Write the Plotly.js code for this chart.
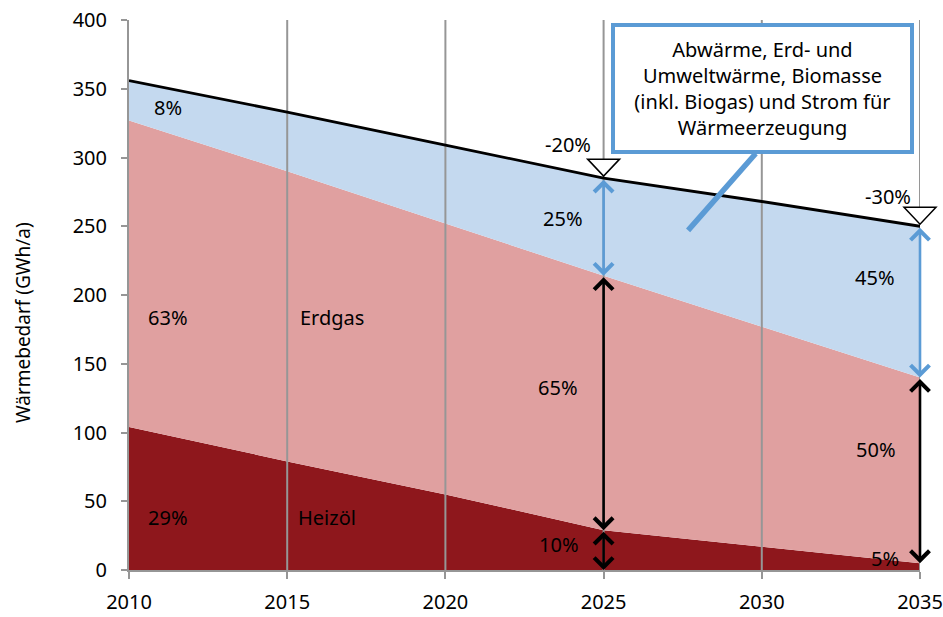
<!DOCTYPE html>
<html>
<head>
<meta charset="utf-8">
<script src="https://cdn.plot.ly/plotly-3.0.1.min.js"></script>
<style>html,body{margin:0;padding:0;background:#fff;}#chart{width:943px;height:617px;}</style>
</head>
<body>
<div id="chart"></div>
<script>
// ---- data ----
const years = [2010, 2015, 2020, 2025, 2030, 2035];
const heizoel = [104, 79, 55, 29, 17, 5];          // Heizöl (GWh/a)
const erdgas = [223, 211, 197, 185, 160, 135];     // Erdgas (GWh/a)
const sonstige = [29, 43, 57, 71, 91, 110];        // Abwärme, Erd-/Umweltwärme, Biomasse, Strom
const xTicks = [2010, 2015, 2020, 2025, 2030, 2035];
const yTicks = [0, 50, 100, 150, 200, 250, 300, 350, 400];
const labelTexts = ['8%', '63%', '29%', 'Erdgas', 'Heizöl', '-20%', '25%', '65%', '10%', '-30%', '45%', '50%', '5%'];
const calloutText = 'Abwärme, Erd- und<br>Umweltwärme, Biomasse<br>(inkl. Biogas) und Strom für<br>Wärmeerzeugung';
const yTitle = 'Wärmebedarf (GWh/a)';

// ---- label placement (layout only) ----
const labelX = [2011.23, 2011.23, 2011.23, 2016.42, 2016.27, 2023.87, 2023.73, 2023.56, 2023.6, 2033.99, 2033.58, 2033.6, 2033.9];
const labelY = [336.7, 183.3, 38.5, 183.3, 38, 309.8, 256, 132.4, 18.2, 272, 212.4, 88, 8.7];

const FONT = 'Noto Sans, DejaVu Sans, sans-serif';
const BLUE = '#5B9BD5';
const GRID = '#969696';
const XR = [2010, 2035];

const pinkTop = years.map((_, i) => heizoel[i] + erdgas[i]);
const total = years.map((_, i) => heizoel[i] + erdgas[i] + sonstige[i]);

const gx = [], gy = [];
xTicks.slice(1).forEach(t => { gx.push(t, t, null); gy.push(0, 400, null); });

const traces = [
  {x: years, y: heizoel, stackgroup: 'a', mode: 'none', fillcolor: '#8E171C', hoverinfo: 'skip', name: 'Heizöl'},
  {x: years, y: erdgas, stackgroup: 'a', mode: 'none', fillcolor: '#E0A0A0', hoverinfo: 'skip', name: 'Erdgas'},
  {x: years, y: sonstige, stackgroup: 'a', mode: 'none', fillcolor: '#C4D9EF', hoverinfo: 'skip', name: 'Sonstige'},
  {x: gx, y: gy, mode: 'lines', line: {color: GRID, width: 2}, cliponaxis: false, hoverinfo: 'skip'},
  {x: years, y: total, mode: 'lines', line: {color: '#000', width: 2.8}, hoverinfo: 'skip'}
];

const annotations = [];
// leader line of the callout
annotations.push({x: 2027.67, y: 247, ax: 2029.85, ay: 304, axref: 'x', ayref: 'y', xref: 'x', yref: 'y',
  text: '', showarrow: true, arrowhead: 0, arrowwidth: 5.5, arrowcolor: BLUE, standoff: 0});
// callout box
annotations.push({x: 2030.02, y: 350, xref: 'x', yref: 'y', text: calloutText, showarrow: false,
  font: {family: FONT, size: 20, color: '#000'}, align: 'center', bgcolor: '#fff', bordercolor: BLUE,
  borderwidth: 4, borderpad: 0, width: 295, height: 123, xanchor: 'center', yanchor: 'middle'});
// text labels
labelTexts.forEach((t, i) => annotations.push({x: labelX[i], y: labelY[i], xref: 'x', yref: 'y', text: t,
  showarrow: false, font: {family: FONT, size: 20, color: '#000'}}));
// double arrows
function dbl(xv, y1, y2, color) {
  annotations.push({x: xv, y: y2, ax: xv, ay: y1, xref: 'x', yref: 'y', axref: 'x', ayref: 'y', text: '',
    showarrow: true, arrowside: 'end+start', arrowhead: 4, startarrowhead: 4, arrowsize: 1.4, startarrowsize: 1.4,
    arrowwidth: 2.6, arrowcolor: color, standoff: 0, startstandoff: 0});
}
[3, 5].forEach(i => {
  dbl(years[i], total[i], pinkTop[i], BLUE);
  dbl(years[i], pinkTop[i], heizoel[i], '#000');
});
dbl(years[3], heizoel[3], 0, '#000');
// y axis title
annotations.push({x: -0.134, y: 0.449, xref: 'paper', yref: 'paper', xanchor: 'center', yanchor: 'middle',
  text: yTitle, textangle: -90, showarrow: false, font: {family: FONT, size: 19, color: '#000'}});

// open "-x%" marker triangles (anchored at the total curve, not clipped horizontally)
const shapes = [3, 5].map(i => ({type: 'path', xref: 'paper', yref: 'y', xsizemode: 'pixel', ysizemode: 'pixel',
  xanchor: (years[i] - XR[0]) / (XR[1] - XR[0]), yanchor: total[i], path: 'M-16,19 L16,19 L0,2 Z', fillcolor: '#fff',
  line: {color: '#000', width: 1.5}, layer: 'above'}));

const layout = {
  width: 943, height: 617,
  margin: {l: 129, r: 23, t: 20, b: 47},
  paper_bgcolor: '#fff', plot_bgcolor: '#fff',
  showlegend: false,
  font: {family: FONT, size: 20, color: '#000'},
  xaxis: {range: XR, tickvals: xTicks, ticktext: xTicks.map(String), showgrid: false, zeroline: false,
    showline: true, linecolor: GRID, linewidth: 2, ticks: 'outside', ticklen: 7, tickwidth: 2, tickcolor: GRID,
    tickfont: {family: FONT, size: 20, color: '#000'}, ticklabelstandoff: 6, layer: 'above traces', fixedrange: true},
  yaxis: {range: [0, 400], tickvals: yTicks, showgrid: false, zeroline: false,
    showline: true, linecolor: GRID, linewidth: 2, ticks: 'outside', ticklen: 6, tickwidth: 2, tickcolor: GRID,
    tickfont: {family: FONT, size: 20, color: '#000'}, ticklabelstandoff: 10, layer: 'above traces', fixedrange: true},
  annotations: annotations,
  shapes: shapes
};

Plotly.newPlot('chart', traces, layout, {displayModeBar: false, staticPlot: true});
</script>
</body>
</html>
